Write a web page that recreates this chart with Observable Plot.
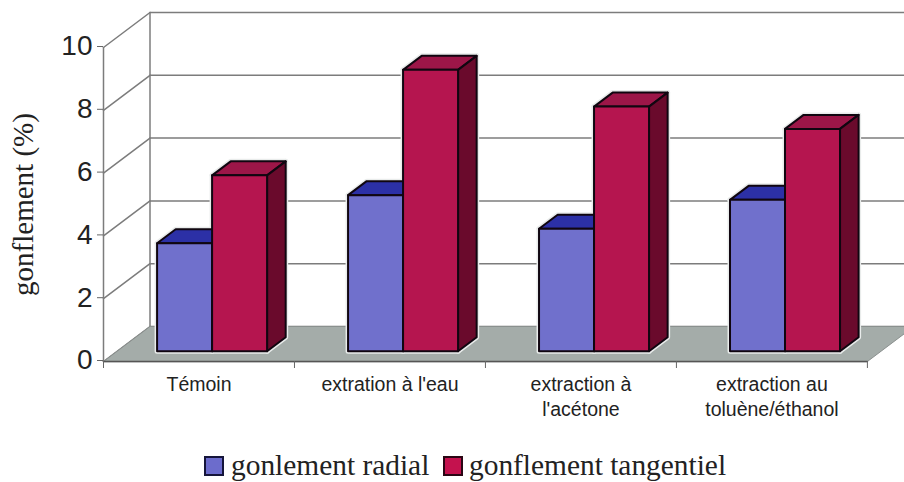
<!DOCTYPE html>
<html lang="fr">
<head>
<meta charset="utf-8">
<script src="https://cdn.jsdelivr.net/npm/d3@7"></script>
<script src="https://cdn.jsdelivr.net/npm/@observablehq/plot@0.6"></script>
<style>
  html, body { margin: 0; padding: 0; background: #fff; }
  #chart svg { display: block; background: #fff; }
  #legend { position: relative; height: 42px; font: 29.4px "Liberation Serif", serif; color: #222; }
  #legend i { position: absolute; top: 16px; width: 20px; height: 20px; box-sizing: border-box; border: 2.5px solid #15153a; }
  #legend span { position: absolute; top: 7px; line-height: 36px; white-space: nowrap; }
</style>
</head>
<body>
<div id="chart"></div>
<div id="legend">
  <i style="left:204px;background:#6c6ccc"></i><span style="left:231px">gonlement radial</span>
  <i style="left:443px;background:#c4124e;border-color:#2a0614"></i><span style="left:469px">gonflement tangentiel</span>
</div>
<script>
const categories = ["Témoin", "extration à l'eau", "extraction à\nl'acétone", "extraction au\ntoluène/éthanol"];
const radial = [3.44, 4.97, 3.9, 4.82];
const tangentiel = [5.6, 8.96, 7.79, 7.08];
const yTicks = [0, 2, 4, 6, 8, 10];
const categoryBounds = [0, 1, 2, 3, 4];

// Oblique projection: depth z in 0..1 shifts a point in x (category units) and y (value units).
const depthX = 0.2435, depthY = 1.115;
const P = (x, y, z) => ({X: x + z * depthX, Y: y + z * depthY});
const zFront = 0.294, zBack = 0.694, barStart = 0.209, barWidth = 0.288;

const colours = {
  floor: "#a4aca9",
  radial: {front: "#7070cc", top: "#2c30a6", side: "#20207a"},
  tangentiel: {front: "#b5154f", top: "#9c1648", side: "#6a0a2c"}
};

const faces = [];
const face = (id, fill, pts) => pts.forEach(p => faces.push({id, fill, ...p}));
const addBar = (id, x0, x1, v, c) => {
  face(id + "t", c.top, [P(x0, v, zFront), P(x1, v, zFront), P(x1, v, zBack), P(x0, v, zBack)]);
  face(id + "s", c.side, [P(x1, 0, zFront), P(x1, v, zFront), P(x1, v, zBack), P(x1, 0, zBack)]);
  face(id + "f", c.front, [P(x0, 0, zFront), P(x1, 0, zFront), P(x1, v, zFront), P(x0, v, zFront)]);
};
categories.forEach((_, i) => {
  const a = i + barStart, b = a + barWidth, c = b + barWidth;
  addBar("r" + i, a, b, radial[i], colours.radial);
  addBar("t" + i, b, c, tangentiel[i], colours.tangentiel);
});

const floor = [P(0, 0, 0), P(0, 0, 1), P(4, 0, 1), P(4, 0, 0)];
const backGrid = yTicks.flatMap(v => [{v, ...P(0, v, 1)}, {v, ...P(4, v, 1)}]);
const sideGrid = yTicks.flatMap(v => [{v, ...P(0, v, 0)}, {v, ...P(0, v, 1)}]);
const leftEdge = [P(0, 0, 0), P(0, 10, 0)];
const backEdge = [P(0, 0, 1), P(0, 10, 1)];
const frontEdge = [P(0, 0, 0), P(4, 0, 0)];
const labels = categories.map((name, i) => ({name, x: i + 0.5}));

const gridStyle = {x: "X", y: "Y", stroke: "#7c7c7c", strokeWidth: 1.5};
const sans = "Liberation Sans, Arial, sans-serif";

const chart = Plot.plot({
  width: 904, height: 440,
  marginLeft: 103, marginRight: 37.1, marginTop: 47, marginBottom: 79,
  x: {domain: [0, 4], range: [103, 866.9]},
  y: {domain: [0, 10], range: [361, 47]},
  style: {background: "#fff"},
  marks: [
    Plot.line(backGrid, {...gridStyle, z: "v"}),
    Plot.line(sideGrid, {...gridStyle, z: "v"}),
    Plot.line(backEdge, gridStyle),
    Plot.line(leftEdge, gridStyle),
    Plot.line(floor, {x: "X", y: "Y", curve: "linear-closed", fill: colours.floor, stroke: "#8a908e", strokeWidth: 1}),
    Plot.line(frontEdge, {x: "X", y: "Y", stroke: "#555", strokeWidth: 1.5}),
    Plot.line(faces, {x: "X", y: "Y", z: "id", curve: "linear-closed", stroke: "#e9eceb", strokeWidth: 5, strokeLinejoin: "round"}),
    Plot.line(faces, {x: "X", y: "Y", z: "id", fill: "fill", curve: "linear-closed", stroke: "#100610", strokeWidth: 2, strokeLinejoin: "round"}),
    Plot.axisY({ticks: yTicks, tickSize: 6, tickPadding: 5, label: null, fontSize: 28, fontFamily: sans, dy: -1, color: "#222", stroke: "#666"}),
    Plot.axisX({ticks: categoryBounds, tickSize: 7, tickFormat: () => "", label: null, stroke: "#666"}),
    Plot.text(labels, {x: "x", y: () => 0, text: "name", dy: 12, lineHeight: 1.26, lineAnchor: "top", fontSize: 19.5, fontFamily: sans, fill: "#222", textAnchor: "middle"}),
    Plot.text(["gonflement (%)"], {frameAnchor: "left", dx: -80, rotate: -90, fontSize: 29, fontFamily: "Liberation Serif, serif", fill: "#222", textAnchor: "middle"})
  ]
});
document.getElementById("chart").append(chart);
</script>
</body>
</html>
